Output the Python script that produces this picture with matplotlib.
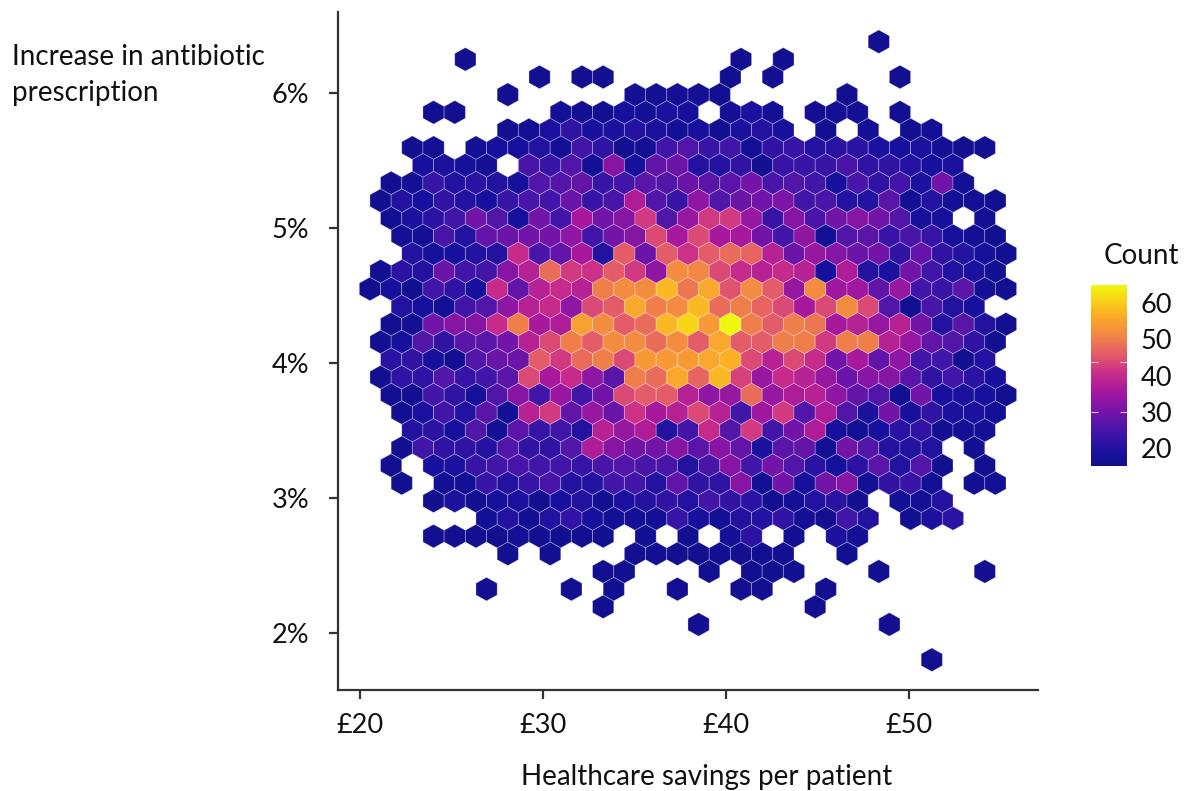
"""Hexbin of antibiotic prescribing against healthcare savings."""

import matplotlib
matplotlib.use("Agg")
import matplotlib.pyplot as plt  # noqa: E402
import numpy as np  # noqa: E402
from matplotlib.colors import LinearSegmentedColormap  # noqa: E402

plt.rcParams["font.family"] = ["Lato", "DejaVu Sans"]

_ = None  # empty cell

# hex grid in data units
GRID_X0 = 20.546
GRID_DX = 1.1585
GRID_Y_TOP = 6.38
GRID_DY = 0.1308

# first column of every row, top row first
ROW_FIRST = [24, 4, 8, 6, 3, 6, 2, 2, 1, 0, 1, 1, 2, 0, 0, 1, 1, 0,
             1, 0, 1, 1, 2, 1, 1, 1, 3, 5, 3, 6, 11, 5, 11, 15, _, 26]

# counts per row
ROW_COUNTS = [
    [16],
    [16, _, _, _, _, _, _, _, _, _, _, _, _, 16, _, 16],
    [16, _, 16, 16, _, _, _, _, _, 16, _, 16, _, _, _, _, _, 16],
    [16, _, _, _, _, _, 17, 17, 17, 17, 16, _, _, _, _, _, 16],
    [16, 16, _, _, _, _, 17, 16, 16, 18, 17, 19, 18, _, 17, 19, 17, _, 16, 17, 17, _, 16],
    [16, 17, 19, 22, 18, 19, 20, 19, 17, 18, 16, 19, 20, 18, _, 16, _, 17, _, 16, 17],
    [16, 17, _, 17, 18, 18, 20, 17, 24, 22, 16, 17, 24, 26, 23, 24, 17, 22, 23, 20, 21, 21, 19, 18, 19, 17, 16, 16],
    [18, 19, 18, 17, _, 25, 23, 26, 17, 32, 18, 28, 29, 20, 20, 22, 16, 23, 23, 23, 25, 22, 22, 20, 18, 19],
    [16, 17, 23, 20, 21, 20, 18, 26, 26, 28, 23, 24, 27, 26, 29, 27, 27, 30, 25, 26, 24, 18, 25, 22, 24, 19, 30, 17],
    [16, 20, 18, 22, 20, 18, 23, 25, 24, 29, 23, 25, 37, 26, 23, 33, 26, 29, 30, 31, 24, 25, 20, 20, 27, 17, 20, 17, 17, 16],
    [16, 19, 21, 24, 30, 26, 18, 30, 24, 36, 30, 32, 42, 26, 34, 42, 42, 34, 23, 32, 25, 30, 32, 30, 26, 18, 18, _, 17],
    [17, 17, 25, 20, 28, 29, 30, 30, 33, 24, 30, 32, 44, 36, 44, 36, 36, 30, 24, 33, 17, 26, 27, 23, 25, 23, 18, 17, 16],
    [20, 18, 18, 20, 20, 40, 25, 28, 36, 20, 46, 29, 46, 41, 46, 48, 47, 38, 29, 34, 32, 29, 30, 22, 28, 22, 20, 18, 16],
    [16, 21, 20, 29, 24, 24, 32, 38, 48, 42, 41, 46, 42, 33, 52, 51, 44, 40, 38, 40, 38, 18, 37, 20, 19, 30, 24, 20, 19, 16],
    [16, 18, 16, 24, 22, 18, 40, 28, 38, 40, 38, 50, 52, 52, 58, 49, 56, 45, 52, 46, 34, 52, 35, 35, 28, 34, 24, 23, 27, 17, 16],
    [20, 18, 17, 24, 26, 33, 38, 40, 33, 44, 46, 56, 50, 52, 58, 48, 50, 47, 44, 36, 44, 52, 44, 26, 16, 25, 20, 18],
    [16, 17, 30, 32, 32, 40, 50, 36, 37, 55, 52, 46, 48, 58, 61, 54, 66, 50, 46, 50, 49, 36, 38, 34, 38, 30, 20, 27, 20, 16],
    [16, 18, 26, 22, 27, 27, 30, 38, 44, 50, 46, 52, 52, 48, 52, 46, 56, 46, 46, 50, 50, 42, 50, 50, 38, 34, 28, 26, 22, 16],
    [21, 22, 18, 16, 26, 29, 29, 46, 42, 48, 50, 44, 54, 54, 54, 56, 57, 44, 38, 44, 40, 30, 36, 28, 33, 24, 24, 16, 20],
    [16, 22, 22, 26, 23, 24, 27, 44, 36, 40, 33, 27, 50, 48, 56, 47, 58, 43, 34, 40, 38, 34, 29, 32, 32, 27, 22, 24, 21, 18],
    [16, 16, 24, 22, 18, 26, 32, 24, 34, 24, 30, 44, 46, 46, 38, 33, 34, 48, 34, 37, 38, 33, 28, 26, 16, 30, 18, 19, 18, 16],
    [16, 19, 24, 20, 27, 17, 38, 42, 28, 34, 29, 41, 36, 38, 44, 38, 24, 35, 42, 26, 37, 26, 19, 30, 18, 22, 19, 19, 17],
    [20, 21, 18, 26, 17, 27, 23, 24, 20, 38, 34, 37, 20, 24, 40, 26, 42, 24, 30, 37, 18, 17, 18, 21, 22, 16, 17, 17],
    [16, 24, 22, 22, 20, 26, 22, 22, 26, 37, 32, 30, 30, 32, 27, 32, 28, 19, 27, 28, 17, 30, 26, 20, 20, 20, _, 16],
    [16, _, 18, 19, 23, 24, 25, 24, 24, 23, 25, 26, 25, 25, 20, 25, 32, 24, 30, 26, 21, 18, 21, 27, 20, 26, 16, _, 16],
    [16, _, 17, 17, 23, 20, 23, 25, 20, 20, 24, 24, 20, 28, 22, 22, 32, 17, 30, 18, 30, 32, 17, 22, 23, 17, _, 16, 17],
    [16, 19, 16, 18, 19, 16, 18, 20, 16, 19, 20, 22, 20, 24, 22, 21, 16, 17, 20, 21, 16, _, 17, 17, 20],
    [17, 20, 16, 20, 22, 18, 17, 17, 17, 23, 18, 17, 20, 20, 22, 17, 16, 24, 20, _, 16, 19, 21],
    [16, 16, 16, 16, 17, 16, 16, 16, 16, _, 16, _, 16, _, 17, 21, _, 16, _, 19, 17],
    [16, _, 16, _, _, _, 16, 16, 16, 16, 16, 16, 16, 16, _, _, 16],
    [16, 16, _, _, _, 16, _, 16, 16, 16, _, _, _, 16, _, _, _, _, 16],
    [16, _, _, _, 16, _, 16, _, _, 16, _, _, 16, 16, _, _, 16],
    [16, _, _, _, _, _, _, _, _, _, 16],
    [16, _, _, _, _, _, _, _, _, 16],
    [],
    [16],
]

X_TICKS = [20, 30, 40, 50]
X_LABELS = ["£20", "£30", "£40", "£50"]
Y_TICKS = [2, 3, 4, 5, 6]
Y_LABELS = ["2%", "3%", "4%", "5%", "6%"]
CBAR_TICKS = [20, 30, 40, 50, 60]
CBAR_MARKS = [30, 43.6]  # the pale notches visible on the bar

COUNT_MIN = 15
COUNT_MAX = 65

cmap = LinearSegmentedColormap.from_list("count", [
    (0.00, "#10108a"), (0.06, "#16109c"), (0.18, "#4015a8"), (0.30, "#7414a8"),
    (0.42, "#a8189c"), (0.52, "#cc2f88"), (0.62, "#e45c68"), (0.72, "#f28545"),
    (0.84, "#fbaf26"), (0.94, "#f8dc14"), (1.00, "#eef80e"),
])

xs, ys, cs = [], [], []
for row, (first, counts) in enumerate(zip(ROW_FIRST, ROW_COUNTS)):
    for k, c in enumerate(counts):
        if c is None:
            continue
        xs.append(GRID_X0 + (first + k + (row % 2) * 0.5) * GRID_DX)
        ys.append(GRID_Y_TOP - row * GRID_DY)
        cs.append(c)

W, H = 1188, 791
fig = plt.figure(figsize=(W / 100, H / 100), dpi=100)
ax = fig.add_axes([338 / W, 1 - 690 / H, 700 / W, 678 / H])

hb = ax.hexbin(xs, ys, C=cs, gridsize=(30, 18), reduce_C_function=np.sum,
               extent=(GRID_X0, GRID_X0 + 30 * GRID_DX,
                       GRID_Y_TOP - 36 * GRID_DY, GRID_Y_TOP),
               cmap=cmap, vmin=COUNT_MIN, vmax=COUNT_MAX,
               edgecolors=(1, 1, 1, 0.3), linewidths=0.6)

ax.set_xlim(18.8, 57.05)
ax.set_ylim(1.578, 6.6)
ax.spines[["top", "right"]].set_visible(False)
ax.spines[["left", "bottom"]].set_linewidth(1.6)
ax.spines[["left", "bottom"]].set_color("#333333")
ax.set_xticks(X_TICKS, X_LABELS)
ax.set_yticks(Y_TICKS, Y_LABELS)
ax.tick_params(length=6.5, width=1.6, color="#333333", labelsize=19.5, labelcolor="#111111")
ax.tick_params(axis="x", pad=10)
ax.tick_params(axis="y", pad=14)

fig.text(707 / W, 1 - 777 / H, "Healthcare savings per patient", fontsize=20,
         ha="center", va="center", color="#111111")
fig.text(12 / W, 1 - 75 / H, "Increase in antibiotic\nprescription", fontsize=20,
         ha="left", va="center", color="#111111", linespacing=1.47)

cax = fig.add_axes([1091 / W, 1 - 466 / H, 36 / W, 181 / H])
cb = fig.colorbar(hb, cax=cax)
cb.outline.set_visible(False)
cb.set_ticks(CBAR_TICKS)
cax.tick_params(length=0, labelsize=19.5, pad=10, labelcolor="#111111")
cax.hlines(CBAR_MARKS, 0, 0.2, color="white", lw=0.8, alpha=0.7)
cax.hlines(CBAR_MARKS, 0.8, 1, color="white", lw=0.8, alpha=0.7)
fig.text(1141.5 / W, 1 - 256 / H, "Count", fontsize=20, ha="center", va="center",
         color="#111111")

fig.savefig("out.png", dpi=100)
plt.close(fig)
